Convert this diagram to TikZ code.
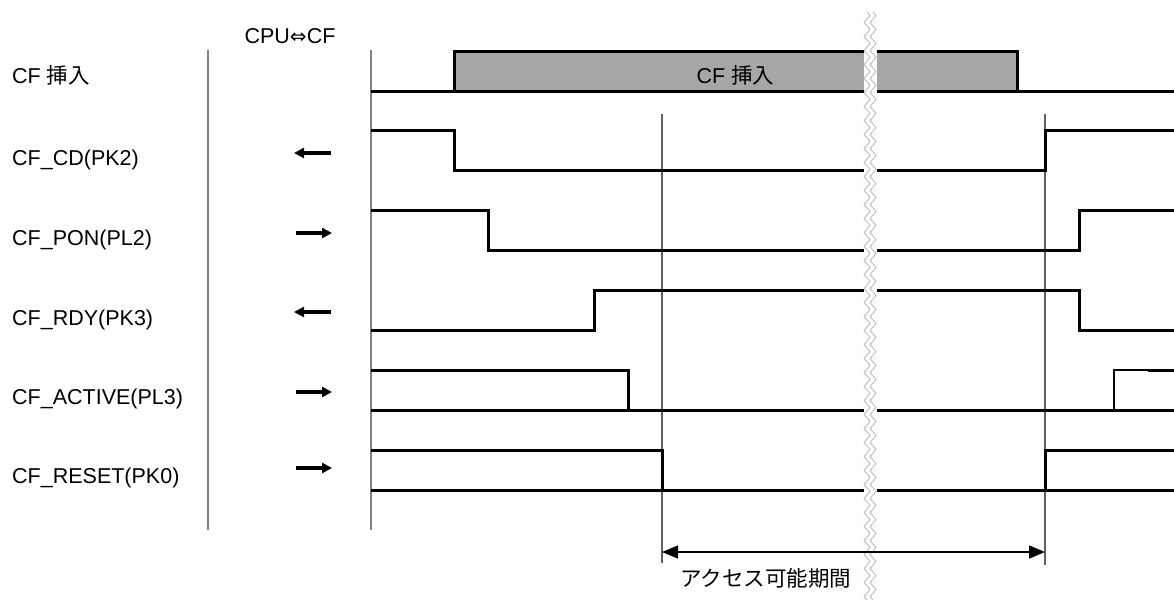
\documentclass[tikz,border=0pt]{standalone}
\usepackage{fontspec}
\setmainfont{Liberation Sans}
\newfontfamily\jp{Noto Sans CJK JP}
\newfontfamily\dejavu{DejaVu Sans}
\usetikzlibrary{arrows.meta,decorations.pathmorphing}
\definecolor{boxgray}{HTML}{A6A6A6}
\definecolor{framegray}{HTML}{808080}
\definecolor{refgray}{HTML}{606060}
\definecolor{zzgray}{HTML}{B0B0B0}
\begin{document}
\begin{tikzpicture}[x=1pt,y=-1pt,
  sig/.style={line width=3pt, line join=miter, black},
  thinsig/.style={line width=2pt, line join=miter, black},
  frameline/.style={line width=1.6pt, framegray},
  refline/.style={line width=1.5pt, refgray},
  lbl/.style={anchor=base west, inner sep=0pt, font=\fontsize{21.5}{25}\selectfont},
  ctext/.style={anchor=base, inner sep=0pt, font=\fontsize{21.5}{25}\selectfont},
  dirarrow/.style={line width=3.5pt, -{Triangle[length=10pt,width=10pt]}},
  dimarrow/.style={line width=1.5pt, {Triangle[length=16pt,width=13pt]}-{Triangle[length=16pt,width=13pt]}},
  zz/.style={zzgray, line width=0.7pt, decorate, decoration={zigzag, segment length=14pt, amplitude=3pt}}
]
\useasboundingbox (0,0) rectangle (1174,600);

% frame lines
\coordinate (f1t) at (208,50); \coordinate (f1b) at (208,530);
\coordinate (f2t) at (371,50); \coordinate (f2b) at (371,530);
\draw[frameline] (f1t) -- (f1b);
\draw[frameline] (f2t) -- (f2b);

% reference lines
\coordinate (r1t) at (662,114); \coordinate (r1b) at (662,563);
\coordinate (r2t) at (1045,114); \coordinate (r2b) at (1045,565);
\draw[refline] (r1t) -- (r1b);
\draw[refline] (r2t) -- (r2b);

% CF insert
\fill[boxgray] (454,51) rectangle (1017,91);
\draw[sig] (371,91) -- (1174,91);
\draw[sig] (454,91) -- (454,51) -- (1017,51) -- (1017,91);
\node[ctext] (boxlbl) at (735.5,83) {CF {\jp 挿入}};

% CF_CD
\draw[sig] (371,130) -- (454,130) -- (454,170) -- (1045,170) -- (1045,130) -- (1174,130);
% CF_PON
\draw[sig] (371,210) -- (488,210) -- (488,250) -- (1079,250) -- (1079,210) -- (1174,210);
% CF_RDY
\draw[sig] (371,330) -- (594,330) -- (594,290) -- (1079,290) -- (1079,330) -- (1174,330);
% CF_ACTIVE
\draw[sig] (371,370) -- (628,370) -- (628,410);
\draw[sig] (371,410) -- (1174,410);
\draw[thinsig] (1114,410) -- (1114,370) -- (1149,370);
\draw[sig] (1148,370) -- (1174,370);
% CF_RESET
\draw[sig] (371,450) -- (662,450) -- (662,490);
\draw[sig] (371,490) -- (1174,490);
\draw[sig] (1045,490) -- (1045,450) -- (1174,450);

% break
\fill[white] (864,12) rectangle (877,600);
\draw[zz] (867,12) -- (867,600);
\draw[zz] (873,12) -- (873,600);

% access period arrow
\coordinate (a1) at (662,552);
\coordinate (a2) at (1045,552);
\draw[dimarrow] (a1) -- (a2);
\node[ctext] (period) at (766,586) {\jp アクセス可能期間};

% header
\node[ctext] (hdr) at (290,43) {CPU{\dejavu\fontsize{20}{22}\selectfont ⇔}CF};

% labels
\node[lbl] (l0) at (12,83) {CF {\jp 挿入}};
\node[lbl] (l1) at (12,165.5) {CF\_CD(PK2)};
\node[lbl] (l2) at (12,245) {CF\_PON(PL2)};
\node[lbl] (l3) at (12,325) {CF\_RDY(PK3)};
\node[lbl] (l4) at (12,404.5) {CF\_ACTIVE(PL3)};
\node[lbl] (l5) at (12,483.5) {CF\_RESET(PK0)};

% direction arrows
\coordinate (d1a) at (331,153); \coordinate (d1b) at (294,153);
\coordinate (d2a) at (296,233); \coordinate (d2b) at (332,233);
\coordinate (d3a) at (331,312); \coordinate (d3b) at (294,312);
\coordinate (d4a) at (296,392); \coordinate (d4b) at (332,392);
\coordinate (d5a) at (296,468); \coordinate (d5b) at (332,468);
\draw[dirarrow] (d1a) -- (d1b);
\draw[dirarrow] (d2a) -- (d2b);
\draw[dirarrow] (d3a) -- (d3b);
\draw[dirarrow] (d4a) -- (d4b);
\draw[dirarrow] (d5a) -- (d5b);
\end{tikzpicture}
\end{document}
